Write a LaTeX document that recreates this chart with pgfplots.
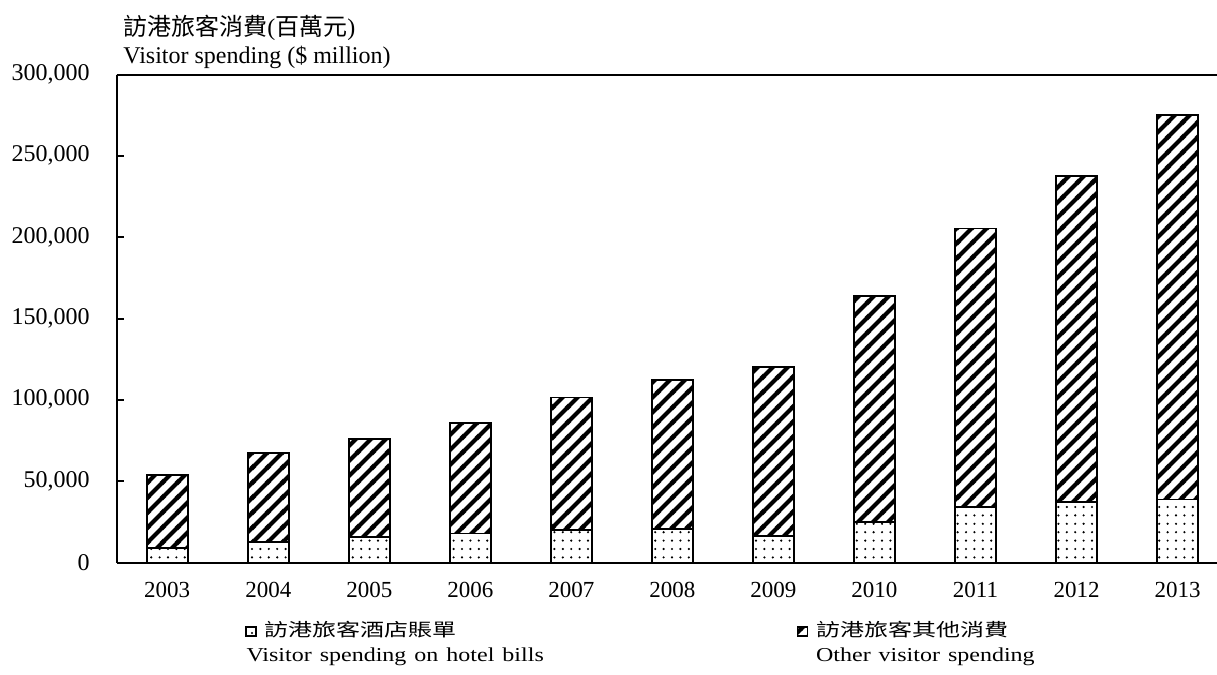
\documentclass[border=0pt]{standalone}
\usepackage{fontspec}
\setmainfont{Liberation Serif}
\newfontfamily\cjk{Noto Sans CJK TC}
\usepackage{graphicx}
\usepackage{pgfplots}
\pgfplotsset{compat=1.18}
\usetikzlibrary{patterns.meta}

% thick 45 degree stripes, drawn past the tile edges so no seams show
\tikzdeclarepattern{
  name=thickstripes,
  type=uncolored,
  bottom left={(0pt,0pt)},
  top right={(7.4pt,7.4pt)},
  tile size={(7.4pt,7.4pt)},
  code={
    \pgfsetlinewidth{2.1pt}
    \pgfpathmoveto{\pgfpoint{-2pt}{-2pt}}\pgfpathlineto{\pgfpoint{9.4pt}{9.4pt}}
    \pgfpathmoveto{\pgfpoint{-2pt}{5.4pt}}\pgfpathlineto{\pgfpoint{2pt}{9.4pt}}
    \pgfpathmoveto{\pgfpoint{5.4pt}{-2pt}}\pgfpathlineto{\pgfpoint{9.4pt}{2pt}}
    \pgfusepath{stroke}
  }
}

\pgfplotsset{
    boxlegend/.style={legend image code/.code={\draw[##1, line width=0.75pt] (0pt,0pt) rectangle (5pt,4.6pt);}},
}

% visitor spending, HK$ million

\begin{document}
\begin{tikzpicture}
\useasboundingbox (-58.35pt,-56.25pt) rectangle (550.15pt,281.25pt);
\begin{axis}[
    scale only axis,
    width=550.15pt, height=244pt,
    ybar stacked,
    bar width=20.5pt,
    xmin=-0.5, xmax=10.39,
    ymin=0, ymax=300000,
    ytick={0,50000,100000,150000,200000,250000,300000},
    xtick=data,
    xticklabels={2003,2004,2005,2006,2007,2008,2009,2010,2011,2012,2013},
    scaled y ticks=false,
    yticklabel={\pgfmathprintnumber[fixed, precision=0, 1000 sep={,}, assume math mode=true]{\tick}},
    axis x line*=box,
    axis y line*=left,
    axis line style={line width=1pt, black},
    xtick style={draw=none},
    ytick style={line width=1pt, black},
    tick align=inside,
    major tick length=3.5pt,
    yticklabel style={font=\fontsize{12}{14}\selectfont, anchor=east, inner sep=0pt, xshift=-13.3pt},
    xticklabel style={font=\fontsize{11.5}{14}\selectfont, anchor=north, inner sep=0pt, yshift=-9.5pt},
    legend columns=2,
    legend style={
        at={(0,0)}, anchor=north west, xshift=64.2pt, yshift=-29.2pt,
        draw=none, inner sep=0pt, outer sep=0pt,
        font=\fontsize{12}{12.5}\selectfont,
        cells={anchor=base west},
        nodes={text width=240pt, align=left, inner sep=0pt},
        /tikz/every odd column/.append style={column sep=4pt},
        /tikz/every even column/.append style={column sep=26pt},
    },
]
\addplot[draw=black, line width=0.9pt, pattern={Dots[distance=4.2pt, radius=0.6pt]}, boxlegend]
    coordinates {(0,9000) (1,12400) (2,15500) (3,17800) (4,19800) (5,20400)
                 (6,16100) (7,24900) (8,34000) (9,37400) (10,38700)};
\addlegendentry{\scalebox{1}[0.75]{\cjk 訪港旅客酒店賬單}\\\hspace*{-9pt}\scalebox{1}[0.82]{Visitor spending on hotel bills}}
\addplot[draw=black, line width=0.9pt, pattern=thickstripes, boxlegend]
    coordinates {(0,44800) (1,54900) (2,60500) (3,67900) (4,81600) (5,91900)
                 (6,103900) (7,139100) (8,171300) (9,200000) (10,236600)};
\addlegendentry{\scalebox{1}[0.75]{\cjk 訪港旅客其他消費}\\\scalebox{1}[0.82]{Other visitor spending}}
\end{axis}
\node[anchor=base west, inner sep=0pt, xshift=3.15pt, yshift=19.75pt, font=\fontsize{12}{14}\selectfont]
    at (current axis.north west) {{\cjk 訪港旅客消費}({\cjk 百萬元})};
\node[anchor=base west, inner sep=0pt, xshift=3.15pt, yshift=5.75pt, font=\fontsize{12}{14}\selectfont]
    at (current axis.north west) {Visitor spending (\$ million)};
\end{tikzpicture}
\end{document}
